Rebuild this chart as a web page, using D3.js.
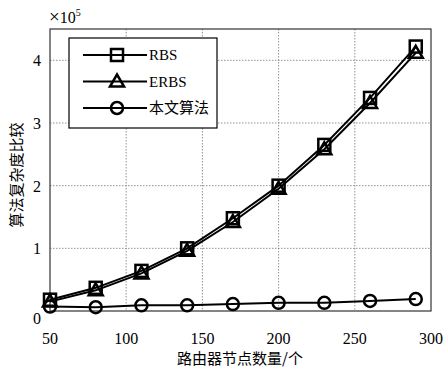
<!DOCTYPE html>
<html>
<head>
<meta charset="utf-8">
<script src="https://cdn.jsdelivr.net/npm/d3@7"></script>
<style>
  body { margin: 0; background: #fff; }
</style>
</head>
<body>
<svg id="chart" width="443" height="370"></svg>
<script>
// node counts on x axis
const nodes = [50, 80, 110, 140, 170, 200, 230, 260, 290];
// complexity, in units of 1e5
const rbs = [0.18, 0.37, 0.64, 1.0, 1.48, 2.0, 2.65, 3.4, 4.22];
const erbs = [0.15, 0.33, 0.6, 0.96, 1.42, 1.95, 2.58, 3.32, 4.12];
const ours = [0.07, 0.06, 0.09, 0.09, 0.11, 0.13, 0.13, 0.16, 0.19];
const seriesNames = ["RBS", "ERBS", "本文算法"];
const xTicks = [50, 100, 150, 200, 250, 300];
const yTicks = [0, 1, 2, 3, 4];

const serif = "'Liberation Serif', 'Times New Roman', 'DejaVu Serif', serif";
const cjk = "'Noto Sans CJK SC', sans-serif";

const svg = d3.select("#chart").attr("font-family", serif);
const mLeft = 50, mRight = 431, mTop = 29, mBottom = 311;

const x = d3.scaleLinear().domain([50, 300]).range([mLeft, mRight]);
const y = d3.scaleLinear().domain([0, 4.5]).range([mBottom, mTop]);

// grid
svg.append("g").selectAll("line").data(xTicks.slice(1, -1)).join("line")
  .attr("x1", d => x(d)).attr("x2", d => x(d))
  .attr("y1", mTop).attr("y2", mBottom)
  .attr("stroke", "#777").attr("stroke-width", 0.8).attr("stroke-dasharray", "1.5,1.5");
svg.append("g").selectAll("line").data(yTicks.slice(1)).join("line")
  .attr("x1", mLeft).attr("x2", mRight)
  .attr("y1", d => y(d)).attr("y2", d => y(d))
  .attr("stroke", "#777").attr("stroke-width", 0.8).attr("stroke-dasharray", "1.5,1.5");

// frame
svg.append("rect").attr("x", mLeft).attr("y", mTop)
  .attr("width", mRight - mLeft).attr("height", mBottom - mTop)
  .attr("fill", "none").attr("stroke", "#333").attr("stroke-width", 1.2);

// tick labels
svg.append("g").selectAll("text").data(xTicks).join("text")
  .attr("x", d => x(d)).attr("y", 344)
  .attr("text-anchor", "middle").attr("font-size", 16).text(d => d);
svg.append("g").selectAll("text").data(yTicks).join("text")
  .attr("x", 41).attr("y", d => y(d) + (d === 0 ? 13 : 6))
  .attr("text-anchor", "end").attr("font-size", 16).text(d => d);

// exponent
const ex = svg.append("text").attr("x", 49).attr("y", 23).attr("font-size", 16);
ex.append("tspan").attr("font-size", 19).text("×");
ex.append("tspan").text("10");
ex.append("tspan").attr("dy", -7).attr("font-size", 10).text("5");

// axis titles
svg.append("text").attr("font-family", cjk)
  .attr("x", 240).attr("y", 364).attr("text-anchor", "middle")
  .attr("font-size", 15).text("路由器节点数量/个");
svg.append("text").attr("font-family", cjk)
  .attr("transform", "translate(22,175) rotate(-90)")
  .attr("text-anchor", "middle").attr("font-size", 15).text("算法复杂度比较");

const line = d3.line().x(d => x(d[0])).y(d => y(d[1]));
const all = [rbs, erbs, ours];

function marker(g, kind, cx, cy) {
  if (kind === 0) {
    g.append("rect").attr("x", cx - 6).attr("y", cy - 6).attr("width", 12).attr("height", 12)
      .attr("fill", "none").attr("stroke", "#000").attr("stroke-width", 2.5);
  } else if (kind === 1) {
    g.append("path").attr("d", `M${cx},${cy - 7}L${cx + 7},${cy + 5}L${cx - 7},${cy + 5}Z`)
      .attr("fill", "none").attr("stroke", "#000").attr("stroke-width", 2.5);
  } else {
    g.append("circle").attr("cx", cx).attr("cy", cy).attr("r", 6)
      .attr("fill", "none").attr("stroke", "#000").attr("stroke-width", 2.5);
  }
}

all.forEach((vals, i) => {
  const pts = nodes.map((n, j) => [n, vals[j]]);
  const g = svg.append("g");
  g.append("path").attr("d", line(pts)).attr("fill", "none")
    .attr("stroke", "#000").attr("stroke-width", 2);
  pts.forEach(p => marker(g, i, x(p[0]), y(p[1])));
});

// legend
const lg = svg.append("g");
lg.append("rect").attr("x", 69).attr("y", 38).attr("width", 148).attr("height", 90)
  .attr("fill", "#fff").attr("stroke", "#000").attr("stroke-width", 1.2);
seriesNames.forEach((name, i) => {
  const ly = 55 + i * 26.5;
  lg.append("line").attr("x1", 83).attr("x2", 147).attr("y1", ly).attr("y2", ly)
    .attr("stroke", "#000").attr("stroke-width", 2);
  marker(lg, i, 117, ly);
  lg.append("text").attr("font-family", i === 2 ? cjk : serif)
    .attr("x", 149).attr("y", ly + 5).attr("font-size", 15).text(name);
});
</script>
</body>
</html>
